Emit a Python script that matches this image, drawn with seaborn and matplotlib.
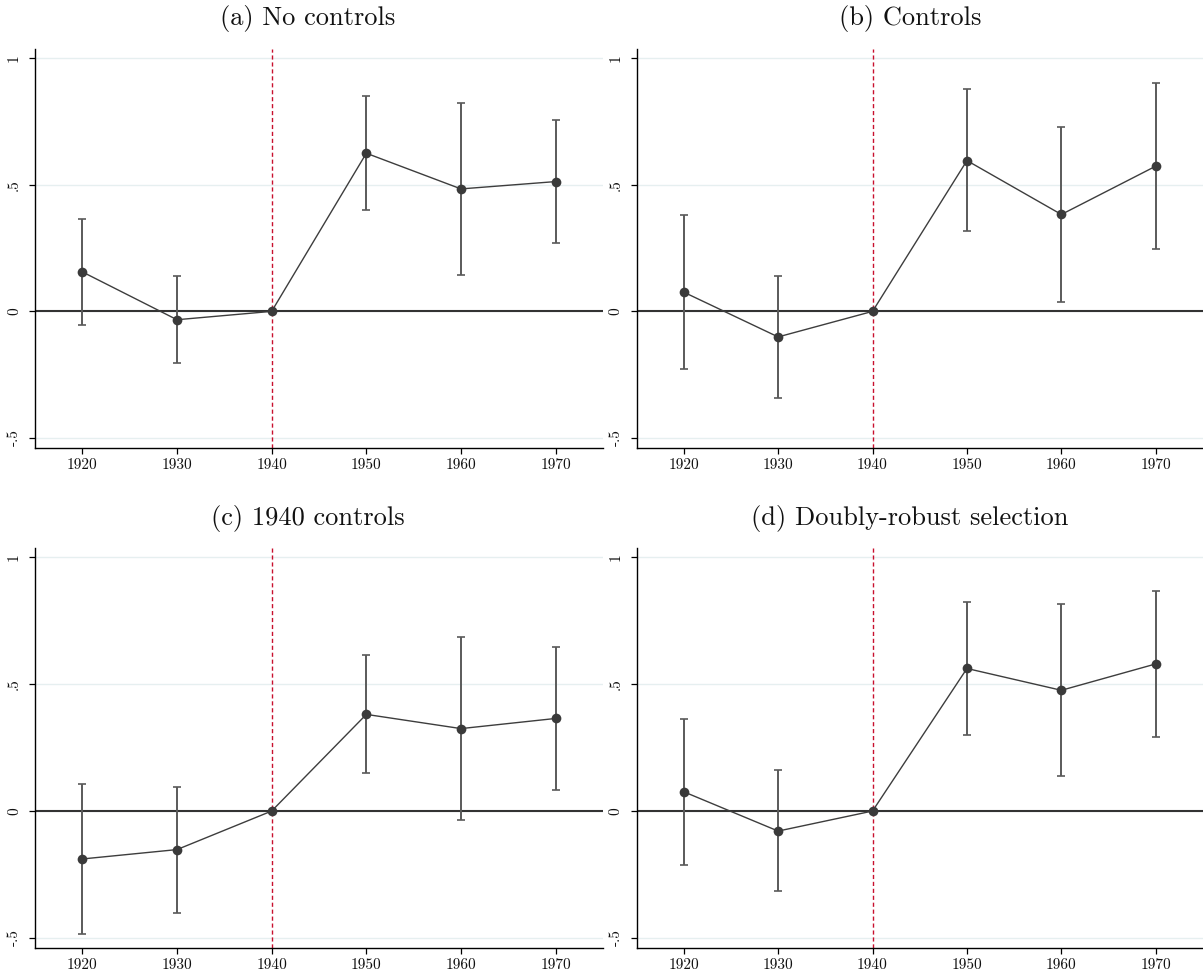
import matplotlib
matplotlib.use("Agg")
import matplotlib.pyplot as plt
import numpy as np
import pandas as pd
import seaborn as sns

# Event-study estimates by census year, with 95% confidence bounds
years = [1920, 1930, 1940, 1950, 1960, 1970]
panel_titles = ["(a) No controls", "(b) Controls",
                "(c) 1940 controls", "(d) Doubly-robust selection"]

coef_a = [0.156, -0.033, 0.0, 0.625, 0.484, 0.513]
low_a = [-0.053, -0.203, np.nan, 0.402, 0.145, 0.272]
high_a = [0.365, 0.141, np.nan, 0.850, 0.822, 0.757]

coef_b = [0.076, -0.101, 0.0, 0.596, 0.383, 0.574]
low_b = [-0.226, -0.342, np.nan, 0.316, 0.038, 0.246]
high_b = [0.380, 0.141, np.nan, 0.878, 0.728, 0.901]

coef_c = [-0.189, -0.152, 0.0, 0.381, 0.325, 0.365]
low_c = [-0.485, -0.401, np.nan, 0.150, -0.035, 0.084]
high_c = [0.108, 0.096, np.nan, 0.616, 0.687, 0.648]

coef_d = [0.076, -0.079, 0.0, 0.562, 0.476, 0.580]
low_d = [-0.213, -0.315, np.nan, 0.298, 0.139, 0.293]
high_d = [0.364, 0.160, np.nan, 0.825, 0.815, 0.869]

y_ticks = [-0.5, 0, 0.5, 1]
y_tick_labels = ["-.5", "0", ".5", "1"]
event_year = 1940

sns.set_theme(style="white")
plt.rcParams["font.family"] = ["cmr10", "DejaVu Serif"]
plt.rcParams["axes.unicode_minus"] = False
plt.rcParams["axes.formatter.use_mathtext"] = True

W, H = 1203, 973
fig = plt.figure(figsize=(W / 100, H / 100), dpi=100)
fig.patch.set_facecolor("white")


def px_axes(left, top, right, bottom):
    return fig.add_axes([left / W, 1 - bottom / H, (right - left) / W, (bottom - top) / H])


boxes = [(35, 49, 603, 448), (636.5, 49, 1203, 448),
         (35, 548, 603, 948), (636.5, 548, 1203, 948)]
title_pos = [(308, 19), (910, 19), (308, 518), (910, 518)]
series = [(coef_a, low_a, high_a), (coef_b, low_b, high_b),
          (coef_c, low_c, high_c), (coef_d, low_d, high_d)]

for box, tpos, title, (coef, low, high) in zip(boxes, title_pos, panel_titles, series):
    ax = px_axes(*box)
    df = pd.DataFrame({"year": years, "coef": coef, "low": low, "high": high})

    # light horizontal grid
    for yv in y_ticks:
        ax.axhline(yv, color="#e6eff0", lw=1.0, zorder=0)
    ax.axhline(0, color="#333333", lw=1.5, zorder=1)
    ax.axvline(event_year, color="#c8102e", lw=1.0, ls=(0, (3, 2)), zorder=1)

    ci = df.dropna()
    ax.errorbar(ci["year"], ci["coef"],
                yerr=[ci["coef"] - ci["low"], ci["high"] - ci["coef"]],
                fmt="none", ecolor="#5a5a5a", elinewidth=1.4, capsize=3.2,
                capthick=1.2, zorder=2)
    sns.lineplot(data=df, x="year", y="coef", ax=ax, color="#3d3d3d", lw=1.0,
                 marker="o", markersize=7, markeredgewidth=0,
                 markerfacecolor="#3a3a3a", zorder=3)

    ax.set_xlim(1915, 1975)
    ax.set_ylim(-0.54, 1.037)
    ax.set_xticks(years)
    ax.set_xticklabels([str(y) for y in years])
    ax.set_yticks(y_ticks)
    ax.set_yticklabels(y_tick_labels, rotation=90, va="center")
    ax.set_xlabel("")
    ax.set_ylabel("")
    for side in ["top", "right"]:
        ax.spines[side].set_visible(False)
    for side in ["left", "bottom"]:
        ax.spines[side].set_color("black")
        ax.spines[side].set_linewidth(1.0)
    ax.tick_params(axis="both", which="major", direction="out", length=4.5,
                   width=0.9, color="black", labelsize=11, labelcolor="#111111",
                   left=True, bottom=True)
    ax.tick_params(axis="y", pad=5.5)
    ax.tick_params(axis="x", pad=3)
    ax.set_facecolor("white")

    fig.text(tpos[0] / W, 1 - tpos[1] / H, title, ha="center", va="center",
             fontsize=19, color="#111111")

fig.savefig("out.png", dpi=100, facecolor="white")
